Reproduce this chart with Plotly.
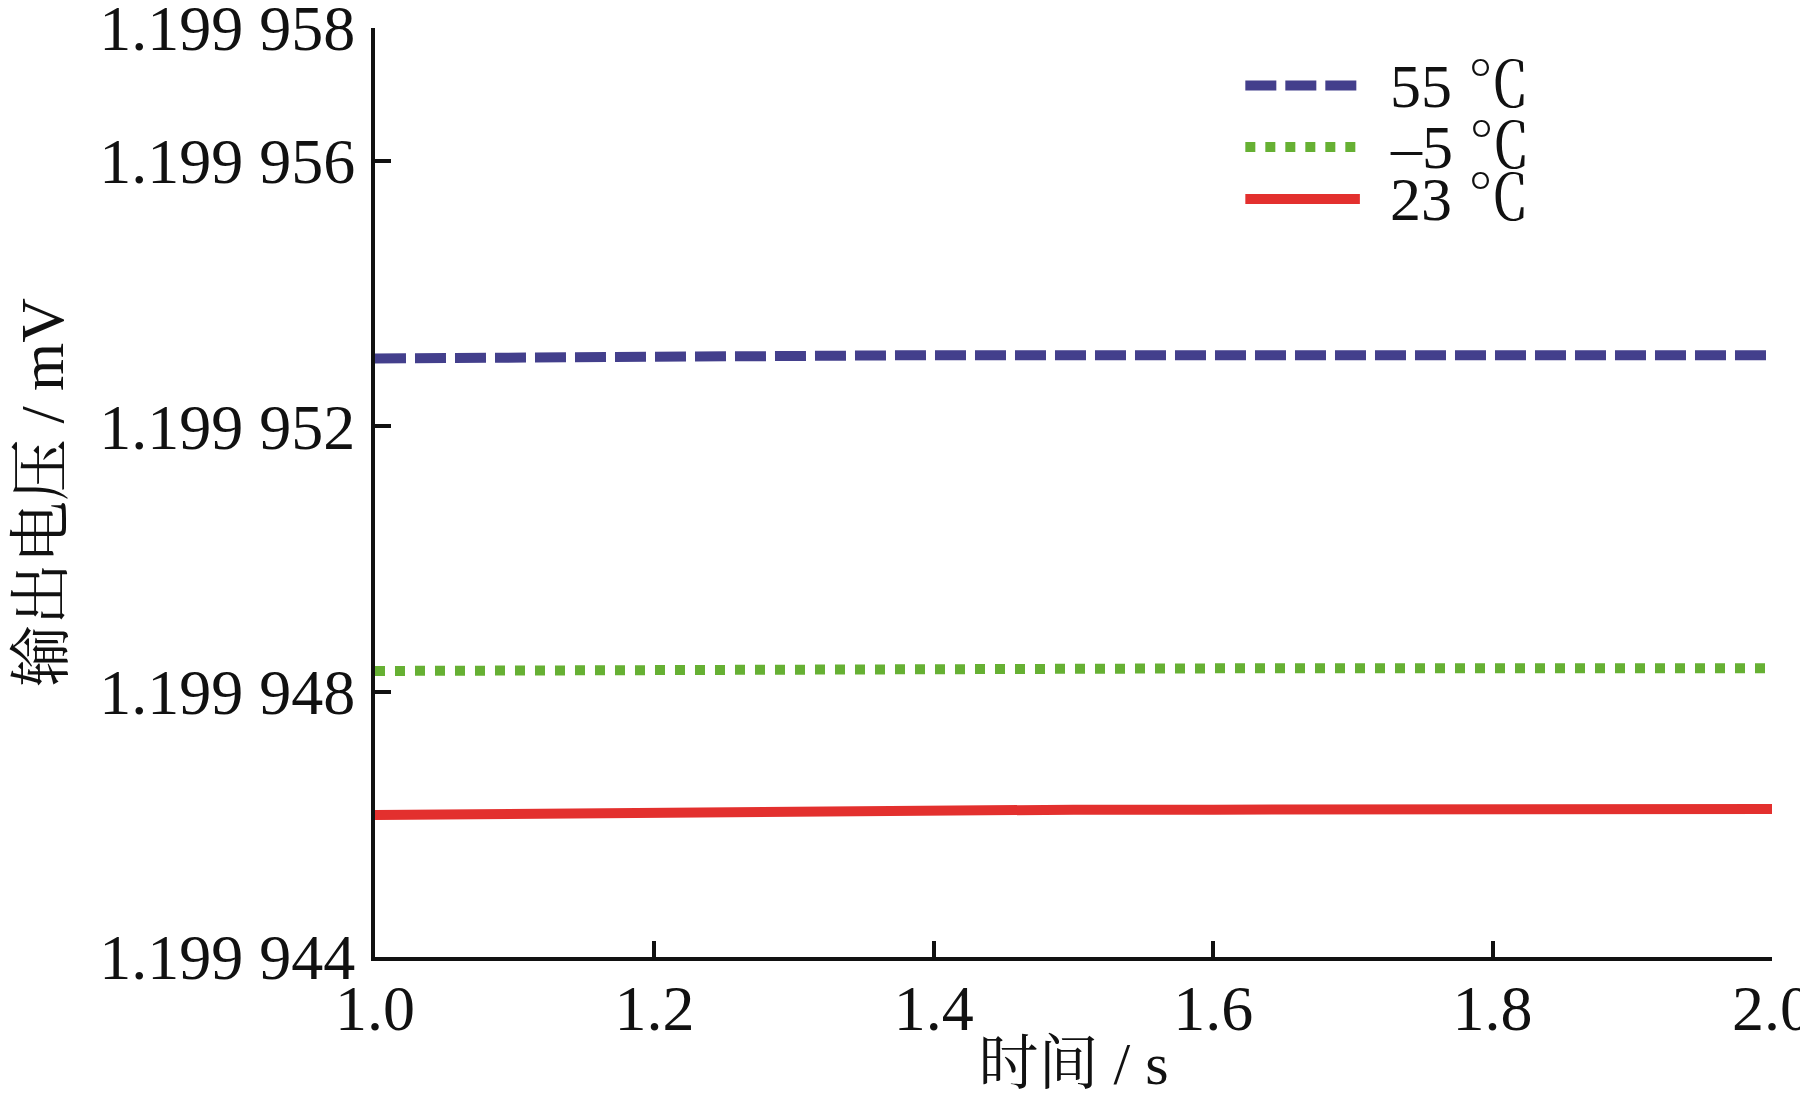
import plotly.graph_objects as go

# ---- data ----
time_s = [1.0, 1.1, 1.2, 1.3, 1.4, 1.5, 1.6, 1.7, 1.8, 1.9, 2.0]
v_55 = [1.19995302, 1.19995304, 1.19995306, 1.19995306, 1.19995307, 1.19995307,
        1.19995307, 1.19995307, 1.19995307, 1.19995307, 1.19995307]
v_m5 = [1.19994831, 1.19994832, 1.19994834, 1.19994834, 1.19994835, 1.19994835,
        1.19994835, 1.19994835, 1.19994835, 1.19994835, 1.19994835]
v_23 = [1.19994614, 1.19994616, 1.19994619, 1.19994620, 1.19994621, 1.19994622,
        1.19994622, 1.19994623, 1.19994623, 1.19994623, 1.19994623]
series_names = ["55 ℃", "–5 ℃", "23 ℃"]
y_tickvals = [1.199944, 1.199948, 1.199952, 1.199956, 1.199958]
y_ticktext = ["1.199 944", "1.199 948", "1.199 952", "1.199 956", "1.199 958"]
x_tickvals = [1.0, 1.2, 1.4, 1.6, 1.8, 2.0]
x_ticktext = ["1.0", "1.2", "1.4", "1.6", "1.8", "2.0"]

# ---- style ----
colors = ["#433f8c", "#66b033", "#e3302e"]
dashes = ["31px,9px", "10px,10px", "solid"]
FONT = "Liberation Serif, Noto Serif CJK SC, Noto Sans CJK SC, serif"

fig = go.Figure()
for name, ys, c, d in zip(series_names, [v_55, v_m5, v_23], colors, dashes):
    fig.add_trace(go.Scatter(x=time_s, y=ys, mode="lines", name=name,
                             line=dict(color=c, width=10, dash=d),
                             showlegend=False))

# manual legend (long line samples like the reference)
leg_rows = [0.938, 0.872, 0.816]
for name, c, d, yr in zip(series_names, colors, dashes, leg_rows):
    fig.add_shape(type="line", xref="paper", yref="paper",
                  x0=0.623, x1=0.705, y0=yr, y1=yr,
                  line=dict(color=c, width=10, dash=d))
    fig.add_annotation(xref="paper", yref="paper", x=0.725, y=yr,
                       xanchor="left", yanchor="middle", showarrow=False,
                       text=name, font=dict(family=FONT, size=62, color="#111"))

# page has an 8px body margin: figure sized so page fits the 1808x1110 window
fig.update_layout(
    width=1792, height=1094,
    margin=dict(l=367, r=28, t=20, b=145, autoexpand=False),
    paper_bgcolor="white", plot_bgcolor="white",
    font=dict(family=FONT, size=64, color="#111"),
)
fig.update_xaxes(range=[1.0, 2.0], tickvals=x_tickvals, ticktext=x_ticktext,
                 automargin=False,
                 showgrid=False, zeroline=False, showline=True, linecolor="#111",
                 linewidth=4, ticks="inside", ticklen=16, tickwidth=4, tickcolor="#111",
                 tickfont=dict(family=FONT, size=64, color="#111"),
                 ticklabelstandoff=-8, ticklabeloverflow="allow",
                 title=dict(text="时间 / s", font=dict(family=FONT, size=60, color="#111"),
                            standoff=0))
fig.update_yaxes(range=[1.199944, 1.199958], tickvals=y_tickvals, ticktext=y_ticktext,
                 automargin=False,
                 showgrid=False, zeroline=False, showline=True, linecolor="#111",
                 linewidth=4, ticks="inside", ticklen=16, tickwidth=4, tickcolor="#111",
                 tickfont=dict(family=FONT, size=64, color="#111"),
                 ticklabelstandoff=3, ticklabeloverflow="allow",
                 title=dict(text="输出电压 / mV", font=dict(family=FONT, size=62, color="#111"),
                            standoff=33))

fig.write_html("out.html")
